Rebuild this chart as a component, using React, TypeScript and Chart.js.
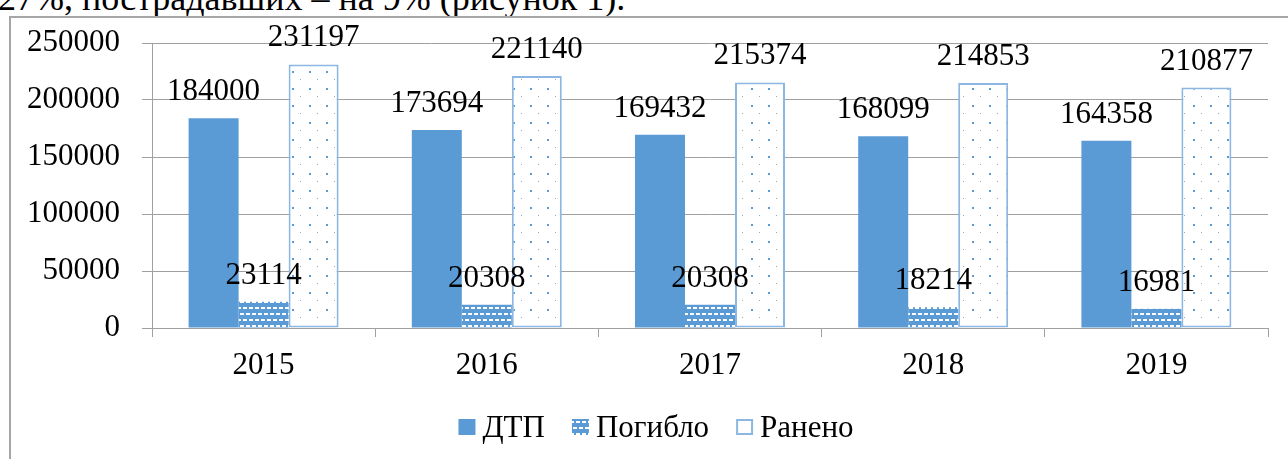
import React, { useEffect, useRef } from "react";
import { Chart, registerables } from "chart.js";
Chart.register(...registerables);

const categories = ["2015", "2016", "2017", "2018", "2019"];
const dtpValues = [184000, 173694, 169432, 168099, 164358];
const killedValues = [23114, 20308, 20308, 18214, 16981];
const injuredValues = [231197, 221140, 215374, 214853, 210877];
const seriesNames = ["ДТП", "Погибло", "Ранено"];
const yTickValues = [0, 50000, 100000, 150000, 200000, 250000];
const captionText = "27%, пострадавших – на 9% (рисунок 1).";

const FONT = "'Liberation Serif', 'Times New Roman', serif";
const BLUE = "#5B9BD5";
const LIGHT_BLUE = "#8DB7E3";
const GRID = "#A0A0A0";

function makeDashPattern(ctx: CanvasRenderingContext2D) {
  const c = document.createElement("canvas");
  c.width = 6;
  c.height = 12;
  const g = c.getContext("2d")!;
  g.fillStyle = BLUE;
  g.fillRect(0, 0, 6, 12);
  g.fillStyle = "#FFFFFF";
  g.fillRect(0, 1, 4, 2);
  g.fillRect(3, 7, 3, 2);
  g.fillRect(0, 7, 1, 2);
  return ctx.createPattern(c, "repeat")!;
}

function makeDotPattern(ctx: CanvasRenderingContext2D) {
  const c = document.createElement("canvas");
  c.width = 17;
  c.height = 17;
  const g = c.getContext("2d")!;
  g.fillStyle = "#FFFFFF";
  g.fillRect(0, 0, 17, 17);
  g.fillStyle = BLUE;
  g.fillRect(3, 3, 2, 2);
  g.fillStyle = "#7FAEDD";
  g.fillRect(11, 11, 1, 1);
  return ctx.createPattern(c, "repeat")!;
}

export default function App() {
  const ref = useRef<HTMLCanvasElement | null>(null);

  useEffect(() => {
    const canvas = ref.current!;
    const ctx0 = canvas.getContext("2d")!;
    const dashPattern = makeDashPattern(ctx0);
    const dotPattern = makeDotPattern(ctx0);

    const dataLabels = {
      id: "dataLabels",
      afterDatasetsDraw(chart: any) {
        const ctx = chart.ctx;
        ctx.save();
        ctx.font = `31px ${FONT}`;
        ctx.fillStyle = "#000";
        ctx.textAlign = "center";
        ctx.textBaseline = "alphabetic";
        chart.data.datasets.forEach((ds: any, i: number) => {
          const meta = chart.getDatasetMeta(i);
          meta.data.forEach((el: any, j: number) => {
            ctx.fillText(String(ds.data[j]), el.x, el.y - 18);
          });
        });
        ctx.restore();
      },
    };

    const customLegend = {
      id: "customLegend",
      afterDraw(chart: any) {
        const ctx = chart.ctx;
        ctx.save();
        ctx.font = `31px ${FONT}`;
        ctx.textBaseline = "alphabetic";
        ctx.textAlign = "left";
        const boxW = 17;
        const boxH = 16;
        const gapBoxText = 7;
        const gapItems = 27;
        const widths = chart.data.datasets.map((ds: any) => ctx.measureText(ds.label).width);
        const total =
          widths.reduce((a: number, w: number) => a + boxW + gapBoxText + w, 0) +
          gapItems * (widths.length - 1);
        let x = 656 - total / 2;
        const baseline = 437;
        const boxTop = 419;
        chart.data.datasets.forEach((ds: any, i: number) => {
          ctx.fillStyle = ds.backgroundColor;
          ctx.fillRect(x, boxTop, boxW, boxH);
          if (ds.borderWidth) {
            ctx.strokeStyle = ds.borderColor;
            ctx.lineWidth = 2;
            ctx.strokeRect(x + 1, boxTop + 1, boxW - 2, boxH - 2);
          }
          ctx.fillStyle = "#000";
          ctx.fillText(ds.label, x + boxW + gapBoxText, baseline);
          x += boxW + gapBoxText + widths[i] + gapItems;
        });
        ctx.restore();
      },
    };

    const chart = new Chart(canvas, {
      type: "bar",
      data: {
        labels: categories,
        datasets: [
          {
            label: seriesNames[0],
            data: dtpValues,
            backgroundColor: BLUE,
            borderWidth: 0,
          },
          {
            label: seriesNames[1],
            data: killedValues,
            backgroundColor: dashPattern as any,
            borderWidth: 0,
          },
          {
            label: seriesNames[2],
            data: injuredValues,
            backgroundColor: dotPattern as any,
            borderColor: LIGHT_BLUE,
            borderWidth: 2,
            borderSkipped: false,
          },
        ],
      },
      options: {
        animation: false,
        responsive: false,
        maintainAspectRatio: false,
        devicePixelRatio: 1,
        datasets: {
          bar: {
            barPercentage: 1,
            categoryPercentage: 0.672,
          },
        },
        layout: { padding: { left: 0, right: 20, top: 43, bottom: 0 } },
        plugins: {
          legend: { display: false },
          tooltip: { enabled: false },
        },
        scales: {
          x: {
            afterFit: (s: any) => {
              s.height = 131;
            },
            grid: {
              drawOnChartArea: false,
              drawTicks: true,
              tickLength: 9,
              color: GRID,
              offset: true,
            },
            border: { display: true, color: GRID, width: 1 },
            ticks: {
              color: "#000",
              font: { family: FONT, size: 31 },
              padding: 10,
              maxRotation: 0,
            },
          },
          y: {
            min: 0,
            max: 250000,
            afterFit: (s: any) => {
              s.width = 152;
            },
            afterBuildTicks: (s: any) => {
              s.ticks = yTickValues.map((v) => ({ value: v }));
            },
            grid: {
              color: GRID,
              drawTicks: true,
              tickLength: 10,
            },
            border: { display: true, color: GRID, width: 1 },
            ticks: {
              color: "#000",
              font: { family: FONT, size: 31 },
              padding: 22,
              callback: (v: any) => String(v),
            },
          },
        },
      },
      plugins: [dataLabels, customLegend],
    });
    return () => chart.destroy();
  }, []);

  return (
    <div style={{ position: "absolute", left: 0, top: 0, width: 1288, height: 459, overflow: "hidden", background: "#fff" }}>
      <div
        style={{
          position: "absolute",
          left: -2,
          top: -20,
          fontFamily: FONT,
          fontSize: 36,
          lineHeight: "36px",
          whiteSpace: "nowrap",
          color: "#000",
        }}
      >
        {captionText}
      </div>
      <div
        style={{
          position: "absolute",
          left: 9,
          top: 16,
          width: 1320,
          height: 500,
          border: "2px solid #A6A6A6",
          boxSizing: "border-box",
        }}
      />
      <canvas ref={ref} width={1288} height={459} style={{ position: "absolute", left: 0, top: 0, width: 1288, height: 459 }} />
    </div>
  );
}
